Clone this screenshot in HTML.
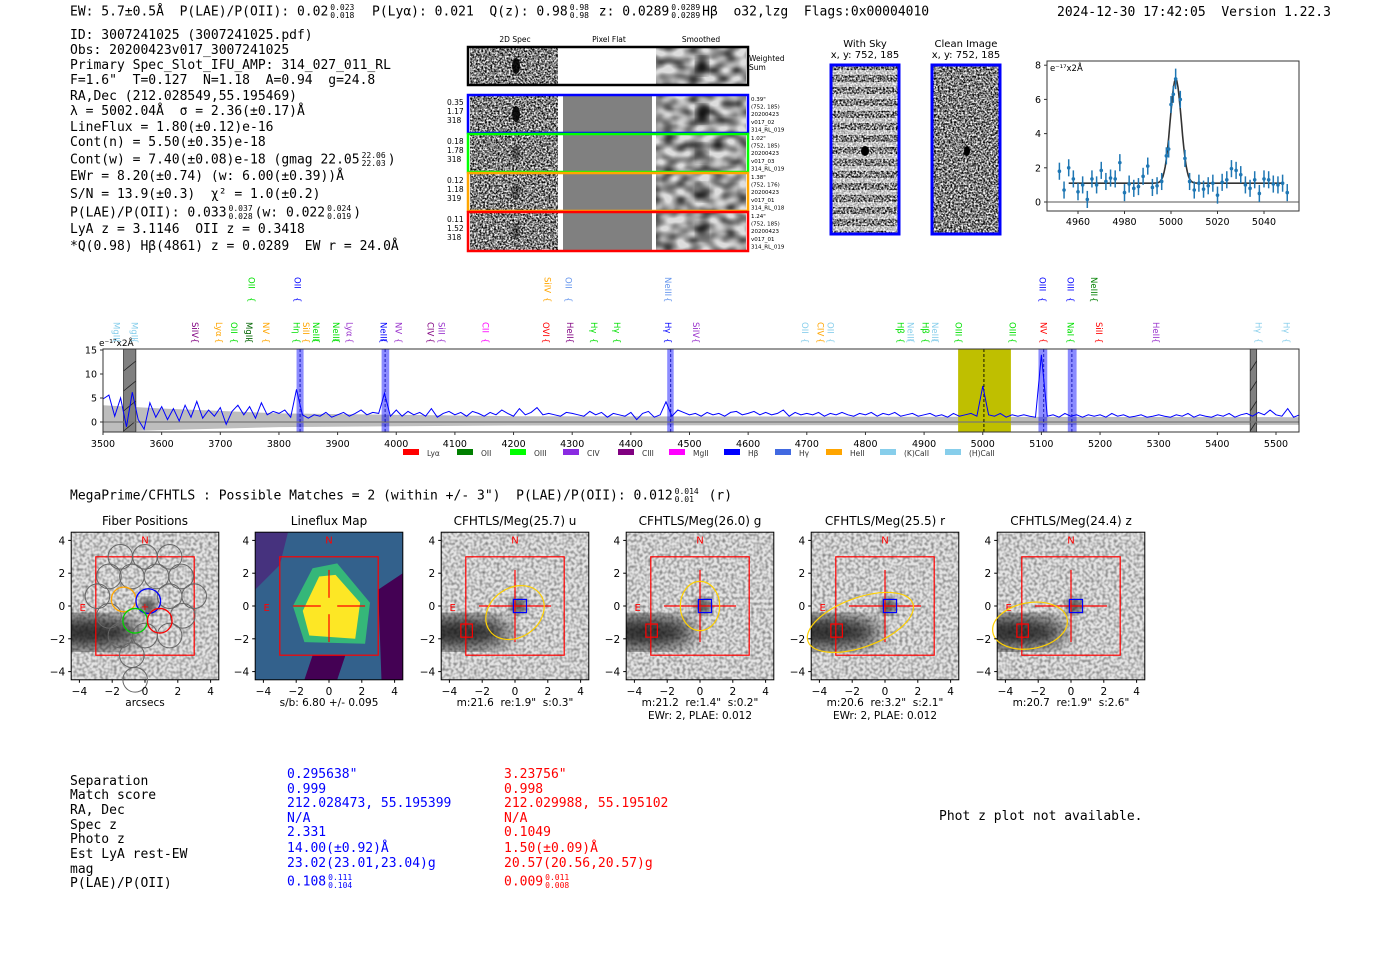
<!DOCTYPE html>
<html><head><meta charset="utf-8">
<style>
body{margin:0;background:#fff;width:1400px;height:953px;position:relative;overflow:hidden;font-family:"DejaVu Sans Mono","Liberation Mono",monospace;}
.t{position:absolute;white-space:pre;font-size:13px;color:#000;line-height:1;}
.s{font-family:"DejaVu Sans","Liberation Sans",sans-serif;}
.st{display:inline-block;vertical-align:middle;font-size:8px;line-height:8px;text-align:left;margin:0 2px;white-space:pre;}
svg{position:absolute;left:0;top:0;}
</style></head><body>
<svg width="0" height="0" style="position:absolute">
<defs>
<filter id="noise" x="0" y="0" width="100%" height="100%"><feTurbulence type="fractalNoise" baseFrequency="0.55" numOctaves="2" seed="3"/><feColorMatrix type="matrix" values="0 0 0 0 0  0 0 0 0 0  0 0 0 0 0  0 0 0 -2.2 1.6"/></filter>
<filter id="noise2" x="0" y="0" width="100%" height="100%"><feTurbulence type="fractalNoise" baseFrequency="0.35" numOctaves="1" seed="7"/><feColorMatrix type="matrix" values="0 0 0 0 0  0 0 0 0 0  0 0 0 0 0  0 0 0 -1.6 1.0"/></filter>
<filter id="smooth" x="0" y="0" width="100%" height="100%"><feTurbulence type="fractalNoise" baseFrequency="0.08 0.12" numOctaves="1" seed="5"/><feColorMatrix type="matrix" values="0 0 0 0 0  0 0 0 0 0  0 0 0 0 0  0 0 0 -1.6 1.1"/></filter>
<filter id="blur3"><feGaussianBlur stdDeviation="4"/></filter>
<filter id="blur8"><feGaussianBlur stdDeviation="9"/></filter>
</defs></svg>

<!-- header -->
<div class="t" style="left:70px;top:4px;">EW: 5.7±0.5Å  P(LAE)/P(OII): 0.02<span class="st">0.023<br>0.018</span>  P(Lyα): 0.021  Q(z): 0.98<span class="st">0.98<br>0.98</span> z: 0.0289<span class="st">0.0289<br>0.0289</span>Hβ  o32,lzg  Flags:0x00004010</div>
<div class="t" style="left:1057px;top:6px;">2024-12-30 17:42:05  Version 1.22.3</div>

<div>
<div class="t" style="left:70px;top:29px;">ID: 3007241025 (3007241025.pdf)</div>
<div class="t" style="left:70px;top:44px;">Obs: 20200423v017_3007241025</div>
<div class="t" style="left:70px;top:59px;">Primary Spec_Slot_IFU_AMP: 314_027_011_RL</div>
<div class="t" style="left:70px;top:74px;">F=1.6"  T=0.127  N=1.18  A=0.94  g=24.8</div>
<div class="t" style="left:70px;top:90px;">RA,Dec (212.028549,55.195469)</div>
<div class="t" style="left:70px;top:105px;">λ = 5002.04Å  σ = 2.36(±0.17)Å</div>
<div class="t" style="left:70px;top:121px;">LineFlux = 1.80(±0.12)e-16</div>
<div class="t" style="left:70px;top:136px;">Cont(n) = 5.50(±0.35)e-18</div>
<div class="t" style="left:70px;top:152px;">Cont(w) = 7.40(±0.08)e-18 (gmag 22.05<span class="st">22.06<br>22.03</span>)</div>
<div class="t" style="left:70px;top:170px;">EWr = 8.20(±0.74) (w: 6.00(±0.39))Å</div>
<div class="t" style="left:70px;top:188px;">S/N = 13.9(±0.3)  χ² = 1.0(±0.2)</div>
<div class="t" style="left:70px;top:205px;">P(LAE)/P(OII): 0.033<span class="st">0.037<br>0.028</span>(w: 0.022<span class="st">0.024<br>0.019</span>)</div>
<div class="t" style="left:70px;top:223px;">LyA z = 3.1146  OII z = 0.3418</div>
<div class="t" style="left:70px;top:240px;">*Q(0.98) Hβ(4861) z = 0.0289  EW r = 24.0Å</div>
</div>

<!-- 2D spec cutouts -->
<svg width="1400" height="953">
<g font-family="DejaVu Sans" font-size="7.5" fill="#000">
<text x="515" y="42" text-anchor="middle">2D Spec</text>
<text x="609" y="42" text-anchor="middle">Pixel Flat</text>
<text x="701" y="42" text-anchor="middle">Smoothed</text>
<text x="749" y="61">Weighted</text><text x="749" y="70">Sum</text>
</g>
<g id="cut"></g>
<g font-family="DejaVu Sans" font-size="10" fill="#000" text-anchor="middle">
<text x="865" y="47">With Sky</text><text x="865" y="58">x, y: 752, 185</text>
<text x="966" y="47">Clean Image</text><text x="966" y="58">x, y: 752, 185</text>
</g>
<rect x="831" y="65" width="68" height="169" fill="#fff"/>
<rect x="831" y="65" width="68" height="169" filter="url(#noise)"/>
<g fill="#fff" opacity="0.55" id="skybands"></g>
<ellipse cx="865" cy="151" rx="4" ry="5" fill="#000"/>
<rect x="831" y="65" width="68" height="169" fill="none" stroke="#00f" stroke-width="3"/>
<rect x="932" y="65" width="68" height="169" fill="#fff"/>
<rect x="932" y="65" width="68" height="169" filter="url(#noise)"/>
<ellipse cx="967" cy="151" rx="3" ry="5" fill="#000"/>
<rect x="932" y="65" width="68" height="169" fill="none" stroke="#00f" stroke-width="3"/>
</svg>

<!-- zoomed line fit -->
<svg width="1400" height="953" id="fitsvg"></svg>

<!-- full spectrum -->
<svg width="1400" height="953" id="specsvg"></svg>

<div class="t" style="left:70px;top:488px;">MegaPrime/CFHTLS : Possible Matches = 2 (within +/- 3")  P(LAE)/P(OII): 0.012<span class="st">0.014<br>0.01</span> (r)</div>

<svg width="1400" height="953" id="imgsvg"></svg>

<!-- match table -->
<div>
<div class="t" style="left:70px;top:775px;">Separation</div>
<div class="t" style="left:70px;top:789px;">Match score</div>
<div class="t" style="left:70px;top:804px;">RA, Dec</div>
<div class="t" style="left:70px;top:819px;">Spec z</div>
<div class="t" style="left:70px;top:833px;">Photo z</div>
<div class="t" style="left:70px;top:848px;">Est LyA rest-EW</div>
<div class="t" style="left:70px;top:863px;">mag</div>
<div class="t" style="left:70px;top:877px;">P(LAE)/P(OII)</div>
</div>
<div style="color:#00f">
<div class="t" style="left:287px;top:768px;color:#00f">0.295638"</div>
<div class="t" style="left:287px;top:783px;color:#00f">0.999</div>
<div class="t" style="left:287px;top:797px;color:#00f">212.028473, 55.195399</div>
<div class="t" style="left:287px;top:812px;color:#00f">N/A</div>
<div class="t" style="left:287px;top:826px;color:#00f">2.331</div>
<div class="t" style="left:287px;top:842px;color:#00f">14.00(±0.92)Å</div>
<div class="t" style="left:287px;top:857px;color:#00f">23.02(23.01,23.04)g</div>
<div class="t" style="left:287px;top:874px;color:#00f">0.108<span class="st">0.111<br>0.104</span></div>
</div>
<div>
<div class="t" style="left:504px;top:768px;color:#f00">3.23756"</div>
<div class="t" style="left:504px;top:783px;color:#f00">0.998</div>
<div class="t" style="left:504px;top:797px;color:#f00">212.029988, 55.195102</div>
<div class="t" style="left:504px;top:812px;color:#f00">N/A</div>
<div class="t" style="left:504px;top:826px;color:#f00">0.1049</div>
<div class="t" style="left:504px;top:842px;color:#f00">1.50(±0.09)Å</div>
<div class="t" style="left:504px;top:857px;color:#f00">20.57(20.56,20.57)g</div>
<div class="t" style="left:504px;top:874px;color:#f00">0.009<span class="st">0.011<br>0.008</span></div>
</div>
<div class="t" style="left:939px;top:810px;">Phot z plot not available.</div>

<script>
// ---------- full spectrum data ----------
const specStart = 3500, specStep = 10;
const specFlux = [
4.8,5.6,1.2,5.0,-1.0,6.2,0.5,-1.5,4.0,1.0,
3.2,0.5,2.8,0.2,3.5,1.0,4.3,0.8,2.5,1.2,
3.0,-0.5,2.2,3.5,1.5,3.2,0.8,4.0,1.5,2.2,
1.8,2.5,1.0,6.8,1.5,0.8,1.5,1.2,2.0,1.0,
1.5,2.0,1.2,1.8,2.5,1.5,2.0,1.8,6.0,1.2,
2.5,1.2,2.2,1.5,2.0,1.2,2.8,1.0,1.8,2.2,
1.5,2.0,1.2,2.2,1.8,1.2,2.0,1.5,2.5,1.8,
1.2,2.8,1.5,2.0,3.0,1.5,1.8,1.5,1.2,2.0,
1.8,1.5,1.2,2.2,1.5,2.0,1.0,1.8,1.5,1.2,
2.0,0.5,1.8,2.2,1.0,1.5,4.2,1.2,2.5,2.0,
1.5,1.8,1.2,2.0,1.5,1.8,1.2,2.0,2.2,1.5,
1.8,2.2,1.5,2.0,1.5,1.8,2.5,1.2,2.0,1.5,
1.8,1.5,2.0,1.2,1.8,1.5,2.0,1.5,1.2,1.8,
1.5,2.0,1.2,1.8,1.5,2.0,1.2,1.5,1.8,1.2,
1.5,1.8,1.2,1.5,1.0,1.8,1.2,1.5,1.8,1.2,
7.5,1.5,1.2,1.8,1.0,1.5,1.2,1.5,1.2,1.0,
14.0,1.2,1.5,1.0,1.8,1.2,1.5,1.0,1.5,1.2,
1.5,1.0,1.8,1.2,1.5,1.0,1.2,1.5,1.0,1.2,
1.5,1.2,1.0,1.5,1.2,1.8,1.0,1.5,1.2,1.0,
1.5,1.2,1.8,1.0,1.5,1.8,1.2,2.0,1.5,2.5,
1.5,1.2,2.8,1.0,1.5];
const errWl = [3500,3600,3800,4200,5540];
const errVal = [3.5,2.8,1.8,1.2,1.0];
const xTicks = [3500,3600,3700,3800,3900,4000,4100,4200,4300,4400,4500,4600,4700,4800,4900,5000,5100,5200,5300,5400,5500];
const yTicks = [0,5,10,15];
const blueBands = [[3830,3842],[3975,3988],[4462,4473],[5095,5110],[5145,5160]];
const blueCenters = [3836,3981,4468,5104,5152];
const yellowBand = [4958,5048];
const grayBands = [[3535,3556],[5456,5467]];
const lowLabels = [["MgII",3523,"#87ceeb"],["MgII",3554,"#87ceeb"],["SiIV",3657,"#800080"],["Lyα",3698,"#ffa500"],["OII",3723,"#00e000"],["MgII",3749,"#006400"],["NV",3778,"#ffa500"],["Hη",3830,"#00e000"],["SiII",3846,"#ffa500"],["NeIII",3863,"#00e000"],["NeIII",3897,"#00e000"],["Lyα",3920,"#9932cc"],["NeIII",3978,"#0000ff"],["NV",4004,"#9932cc"],["CIV",4058,"#800080"],["SiII",4077,"#9932cc"],["CII",4152,"#ff00ff"],["OVI",4255,"#ff0000"],["HeII",4296,"#800080"],["Hγ",4337,"#00e000"],["Hγ",4376,"#00e000"],["Hγ",4463,"#0000ff"],["SiIV",4511,"#9932cc"],["OII",4697,"#87ceeb"],["CIV",4723,"#ffa500"],["OII",4740,"#87ceeb"],["Hβ",4860,"#00e000"],["NeIII",4877,"#87ceeb"],["Hβ",4902,"#00e000"],["NeIII",4919,"#87ceeb"],["OIII",4959,"#00e000"],["OIII",5051,"#00e000"],["NV",5104,"#ff0000"],["NaI",5150,"#00e000"],["SiII",5198,"#ff0000"],["HeII",5295,"#9932cc"],["Hγ",5470,"#87ceeb"],["Hγ",5518,"#87ceeb"]];
const highLabels = [["OII",3753,"#00e000"],["OII",3832,"#0000ff"],["SiIV",4258,"#ffa500"],["OII",4294,"#6495ed"],["NeIII",4463,"#6495ed"],["OIII",5102,"#0000ff"],["OIII",5150,"#0000ff"],["NeIII",5190,"#008000"]];
const legendNames = ["Lyα","OII","OIII","CIV","CIII","MgII","Hβ","Hγ","HeII","(K)CaII","(H)CaII"];
const legendColors = ["#ff0000","#007f00","#00ff00","#8a2be2","#800080","#ff00ff","#0000ff","#4169e1","#ffa500","#87ceeb","#87ceeb"];

// ---------- line fit data ----------
const fitWl = [4952,4954,4956,4958,4960,4962,4964,4966,4968,4970,4972,4974,4976,4978,4980,4982,4984,4986,4988,4990,4992,4994,4996,4998,4999,5000,5001,5002,5004,5006,5008,5010,5012,5014,5016,5018,5020,5022,5024,5026,5028,5030,5032,5034,5036,5038,5040,5042,5044,5046,5048,5050];
const fitFlux = [1.8,0.7,2.0,1.35,0.6,1.0,0.15,1.35,1.0,1.85,1.2,1.4,1.35,2.3,0.55,1.05,0.8,0.9,1.5,2.1,0.85,0.95,1.2,2.7,3.1,5.7,6.3,7.2,6.0,2.55,1.2,0.7,1.1,0.75,0.95,1.1,0.4,1.15,1.3,1.95,1.85,1.6,1.0,0.8,1.3,0.5,1.35,1.3,1.05,1.0,1.1,0.55];
const fitErr = [0.5,0.5,0.5,0.5,0.5,0.5,0.5,0.5,0.5,0.5,0.5,0.5,0.5,0.5,0.5,0.5,0.5,0.5,0.5,0.5,0.5,0.5,0.5,0.5,0.5,0.5,0.5,0.6,0.5,0.5,0.5,0.5,0.5,0.5,0.5,0.5,0.5,0.5,0.5,0.5,0.5,0.5,0.5,0.5,0.5,0.5,0.5,0.5,0.5,0.5,0.5,0.5];
const fitTicksX = [4960,4980,5000,5020,5040];
const fitTicksY = [0,2,4,6,8];
const fitModel = [5002.04, 2.36, 6.1, 1.1]; // center, sigma, amplitude, continuum

const NS="http://www.w3.org/2000/svg";
function mk(parent,tag,attrs,txt){const e=document.createElementNS(NS,tag);for(const k in attrs)e.setAttribute(k,attrs[k]);if(txt!==undefined)e.textContent=txt;parent.appendChild(e);return e;}

// ---------- cutouts ----------
(function(){
 const g=document.getElementById('cut');
 const rows=[[47,38,"#000",null],[95,38,"#0000ff",["0.35","1.17","318"],["0.39\"","(752, 185)","20200423","v017_02","314_RL_019"]],[134,38,"#00ff00",["0.18","1.78","318"],["1.02\"","(752, 185)","20200423","v017_03","314_RL_019"]],[173,38,"#ffa500",["0.12","1.18","319"],["1.38\"","(752, 176)","20200423","v017_01","314_RL_018"]],[212,39,"#ff0000",["0.11","1.52","318"],["1.24\"","(752, 185)","20200423","v017_01","314_RL_019"]]];
 rows.forEach((r,i)=>{
  const y=r[0],h=r[1];
  mk(g,'rect',{x:470,y:y,width:88,height:h,fill:'#fff'});
  mk(g,'rect',{x:470,y:y,width:88,height:h,filter:'url(#noise)'});
  mk(g,'ellipse',{cx:516,cy:y+h/2,rx:4,ry:8,fill:'#000',opacity:i==0||i==1?0.9:0.4});
  mk(g,'rect',{x:563,y:y,width:89,height:h,fill:i==0?'#fff':'#808080'});
  mk(g,'rect',{x:656,y:y,width:90,height:h,fill:'#ddd'});
  mk(g,'rect',{x:656,y:y,width:90,height:h,filter:'url(#smooth)'});
  mk(g,'ellipse',{cx:702,cy:y+h/2,rx:6,ry:9,fill:'#000',filter:'url(#blur3)',opacity:i<2?1:0.6});
  mk(g,'rect',{x:468,y:y,width:280,height:h,fill:'none',stroke:r[2],'stroke-width':2.5});
  if(r[3]) r[3].forEach((t,j)=>mk(g,'text',{x:447,y:y+10+j*9,'font-family':'DejaVu Sans','font-size':7.5},t));
  if(r[4]) r[4].forEach((t,j)=>mk(g,'text',{x:751,y:y+6+j*7.6,'font-family':'DejaVu Sans','font-size':5.5},t));
 });
 const sb=document.getElementById('skybands');
 for(let y=70;y<232;y+=12){mk(sb,'rect',{x:831,y:y,width:68,height:5});}
})();

// ---------- fit chart ----------
(function(){
 const s=document.getElementById('fitsvg');
 const L=1047,R=1299,T=61,B=211;
 const fx=w=>1078+(w-4960)*2.325, fy=v=>202-v*17.1;
 mk(s,'rect',{x:L,y:T,width:R-L,height:B-T,fill:'#fff',stroke:'#333','stroke-width':1});
 mk(s,'line',{x1:L,x2:R,y1:fy(0),y2:fy(0),stroke:'#555','stroke-width':1});
 fitTicksX.forEach(t=>{mk(s,'line',{x1:fx(t),x2:fx(t),y1:B,y2:B+3,stroke:'#333'});const e=mk(s,'text',{x:fx(t),y:B+14,'font-family':'DejaVu Sans','font-size':9.5,'text-anchor':'middle'},t);});
 fitTicksY.forEach(t=>{mk(s,'line',{x1:L-3,x2:L,y1:fy(t),y2:fy(t),stroke:'#333'});mk(s,'text',{x:L-6,y:fy(t)+3.5,'font-family':'DejaVu Sans','font-size':9.5,'text-anchor':'end'},t);});
 mk(s,'text',{x:L+3,y:T+10,'font-family':'DejaVu Sans','font-size':8.5},'e⁻¹⁷x2Å');
 let d='';
 for(let w=4956;w<=5048;w+=0.5){const v=fitModel[3]+fitModel[2]*Math.exp(-0.5*Math.pow((w-fitModel[0])/fitModel[1],2));d+=(d?'L':'M')+fx(w).toFixed(1)+','+fy(v).toFixed(1);}
 const m=mk(s,'path',{d:d,fill:'none',stroke:'#333','stroke-width':1.6});
 
 fitWl.forEach((w,i)=>{
  const g=mk(s,'g',{});
  
  
  mk(g,'line',{x1:fx(w),x2:fx(w),y1:fy(fitFlux[i]-fitErr[i]),y2:fy(fitFlux[i]+fitErr[i]),stroke:'#1f77b4','stroke-width':1.5});
  mk(g,'circle',{cx:fx(w),cy:fy(fitFlux[i]),r:1.8,fill:'#1f77b4'});
 });
})();

// ---------- full spectrum ----------
(function(){
 const s=document.getElementById('specsvg');
 const L=103,R=1299,T=349,B=432;
 const sx=w=>103+(w-3500)*0.5865, sy=v=>422-v*4.8;
 mk(s,'rect',{x:L,y:T,width:R-L,height:B-T,fill:'#fff'});
 let up='',dn='';
 const n=errWl.length;
 for(let i=0;i<n;i++){up+=(i?'L':'M')+sx(errWl[i])+','+sy(errVal[i]);}
 for(let i=n-1;i>=0;i--){dn+='L'+sx(errWl[i])+','+sy(-errVal[i]*0.6);}
 const band=mk(s,'path',{d:up+dn+'Z',fill:'#bdbdbd'});
 
 const yb=mk(s,'rect',{x:sx(yellowBand[0]),y:T,width:sx(yellowBand[1])-sx(yellowBand[0]),height:B-T,fill:'#bfbf00'});
 
 blueBands.forEach(b=>{const r=mk(s,'rect',{x:sx(b[0]),y:T,width:sx(b[1])-sx(b[0]),height:B-T,fill:'#0000ff',opacity:0.45});});
 grayBands.forEach(b=>{const r=mk(s,'rect',{x:sx(b[0]),y:T,width:sx(b[1])-sx(b[0]),height:B-T,fill:'#808080',stroke:'#333','stroke-width':0.8});
  for(let k=0;k<4;k++){mk(s,'line',{x1:sx(b[0]),x2:sx(b[1]),y1:T+22+k*20,y2:T+12+k*20,stroke:'#222','stroke-width':0.8});}});
 mk(s,'line',{x1:L,x2:R,y1:sy(0),y2:sy(0),stroke:'#777','stroke-width':1.2});
 blueCenters.forEach(c=>mk(s,'line',{x1:sx(c),x2:sx(c),y1:T,y2:B,stroke:'#0000aa','stroke-dasharray':'3,2','stroke-width':0.8}));
 mk(s,'line',{x1:sx(5002),x2:sx(5002),y1:T,y2:B,stroke:'#000','stroke-dasharray':'3,2','stroke-width':0.9});
 let d='';
 specFlux.forEach((v,i)=>{const w=specStart+i*specStep;d+=(i?'L':'M')+sx(w).toFixed(1)+','+sy(Math.max(v,-2)).toFixed(1);});
 const ln=mk(s,'path',{d:d,fill:'none',stroke:'#0000ff','stroke-width':1});
 
 mk(s,'rect',{x:L,y:T,width:R-L,height:B-T,fill:'none',stroke:'#333','stroke-width':1});
 xTicks.forEach(t=>{mk(s,'line',{x1:sx(t),x2:sx(t),y1:B,y2:B+3,stroke:'#333'});mk(s,'text',{x:sx(t),y:B+15,'font-family':'DejaVu Sans','font-size':9.5,'text-anchor':'middle'},t);});
 yTicks.forEach(t=>{mk(s,'line',{x1:L-3,x2:L,y1:sy(t),y2:sy(t),stroke:'#333'});mk(s,'text',{x:L-6,y:sy(t)+3.5,'font-family':'DejaVu Sans','font-size':9.5,'text-anchor':'end'},t);});
 mk(s,'text',{x:99,y:346,'font-family':'DejaVu Sans','font-size':9},'e⁻¹⁷x2Å');
 lowLabels.forEach(a=>{const x=sx(a[1]);const e=mk(s,'text',{x:0,y:0,transform:`translate(${x-3},${322}) rotate(90)`,'font-family':'DejaVu Sans','font-size':8.5,fill:a[2]},a[0]);mk(s,'text',{x:0,y:0,transform:`translate(${x-3},${338}) rotate(90)`,'font-family':'DejaVu Sans','font-size':8.5,fill:a[2]},'{');});
 highLabels.forEach(a=>{const x=sx(a[1]);const e=mk(s,'text',{x:0,y:0,transform:`translate(${x-3},${277}) rotate(90)`,'font-family':'DejaVu Sans','font-size':8.5,fill:a[2]},a[0]);mk(s,'text',{x:0,y:0,transform:`translate(${x-3},${297}) rotate(90)`,'font-family':'DejaVu Sans','font-size':8.5,fill:a[2]},'{');});
 const lx=[403,457,510,563,618,669,724,775,826,880,945];
 legendNames.forEach((nm,i)=>{const g=mk(s,'g',{});
  mk(g,'rect',{x:lx[i],y:449,width:16,height:6,fill:legendColors[i]});
  mk(g,'text',{x:lx[i]+24,y:456,'font-family':'DejaVu Sans','font-size':7.5,fill:'#333'},nm);});
})();

// ---------- imaging panels ----------
(function(){
 const s=document.getElementById('imgsvg');
 const px=16.4;
 const panels=[
  {c:145,title:'Fiber Positions',sub:['arcsecs'],type:'fiber'},
  {c:329,title:'Lineflux Map',sub:['s/b: 6.80 +/- 0.095'],type:'flux'},
  {c:515,title:'CFHTLS/Meg(25.7) u',sub:['m:21.6  re:1.9"  s:0.3"'],type:'img',ell:[0,-0.4,1.9,1.5,35]},
  {c:700,title:'CFHTLS/Meg(26.0) g',sub:['m:21.2  re:1.4"  s:0.2"','EWr: 2, PLAE: 0.012'],type:'img',ell:[0,0,1.2,1.5,0]},
  {c:885,title:'CFHTLS/Meg(25.5) r',sub:['m:20.6  re:3.2"  s:2.1"','EWr: 2, PLAE: 0.012'],type:'img',ell:[-1.5,-1,3.4,1.5,20]},
  {c:1071,title:'CFHTLS/Meg(24.4) z',sub:['m:20.7  re:1.9"  s:2.6"'],type:'img',ell:[-2.5,-1.2,2.3,1.4,10]}
 ];
 const cy=606;
 panels.forEach((p,pi)=>{
  const g=mk(s,'g',{});
  
  
  const X=v=>p.c+v*px, Y=v=>cy-v*px;
  const x0=X(-4.5),y0=Y(4.5),w=9*px;
  const cp='cp'+pi;
  const defs=mk(g,'defs',{});const clip=mk(defs,'clipPath',{id:cp});mk(clip,'rect',{x:x0,y:y0,width:w,height:w});
  const ig=mk(g,'g',{'clip-path':`url(#${cp})`});
  if(p.type==='flux'){
   mk(ig,'rect',{x:x0,y:y0,width:w,height:w,fill:'#2a788e'});
   mk(ig,'rect',{x:x0,y:y0,width:w,height:w,fill:'#3b528b',opacity:0.6});
   mk(ig,'path',{d:`M${X(-4.5)},${Y(4.5)}L${X(-2.5)},${Y(4.5)}L${X(-3)},${Y(2.5)}L${X(-4.5)},${Y(1)}Z`,fill:'#46327e'});
   mk(ig,'path',{d:`M${X(4.5)},${Y(2)}L${X(3)},${Y(1)}L${X(3.2)},${Y(-4.5)}L${X(4.5)},${Y(-4.5)}Z`,fill:'#440154'});
   mk(ig,'path',{d:`M${X(-1)},${Y(-3)}L${X(1)},${Y(-3)}L${X(0.5)},${Y(-4.5)}L${X(-1.5)},${Y(-4.5)}Z`,fill:'#440154'});
   mk(ig,'path',{d:`M${X(-2.2)},${Y(0)}L${X(-1)},${Y(2.3)}L${X(0.5)},${Y(2.6)}L${X(2.5)},${Y(0.2)}L${X(2.2)},${Y(-2.3)}L${X(-1.5)},${Y(-2.2)}Z`,fill:'#35b779'});
   mk(ig,'path',{d:`M${X(-1.6)},${Y(-0.3)}L${X(-0.6)},${Y(1.8)}L${X(0.4)},${Y(1.9)}L${X(1.9)},${Y(0.2)}L${X(1.6)},${Y(-2)}L${X(-1.2)},${Y(-1.8)}Z`,fill:'#fde725'});
  } else {
   mk(ig,'rect',{x:x0,y:y0,width:w,height:w,fill:'#e4e4e4'});
   mk(ig,'rect',{x:x0,y:y0,width:w,height:w,filter:'url(#noise2)',opacity:0.6});
   mk(ig,'ellipse',{cx:X(-3.5),cy:Y(-1.6),rx:3.2*px,ry:1.0*px,fill:'#111',filter:'url(#blur8)',opacity:0.85});
   mk(ig,'ellipse',{cx:X(0.2),cy:Y(0),rx:0.5*px,ry:0.5*px,fill:'#333',filter:'url(#blur3)',opacity:0.8});
  }
  mk(g,'rect',{x:x0,y:y0,width:w,height:w,fill:'none',stroke:'#000','stroke-width':1});
  mk(g,'rect',{x:X(-3),y:Y(3),width:6*px,height:6*px,fill:'none',stroke:'#ff0000','stroke-width':1.2});
  mk(g,'text',{x:X(0),y:Y(3.8),'font-family':'DejaVu Sans','font-size':10,fill:'#ff0000','text-anchor':'middle'},'N');
  mk(g,'text',{x:X(-3.8),y:Y(-0.3),'font-family':'DejaVu Sans','font-size':10,fill:'#ff0000','text-anchor':'middle'},'E');
  if(p.type==='fiber'){
   const pos=[[-1.5,3],[0,3],[1.5,3],[-2.2,1.8],[-0.8,1.8],[0.7,1.8],[2.2,1.8],[-2.9,0.6],[1.5,0.6],[3,0.6],[-2.2,-0.6],[2.3,-0.6],[-1.5,-1.8],[0,-1.8],[1.5,-1.8],[-0.8,-3],[-0.6,-4.5]];
   pos.forEach(q=>mk(g,'circle',{cx:X(q[0]),cy:Y(q[1]),r:0.75*px,fill:'none',stroke:'#666','stroke-width':1}));
   [[-1.3,0.4,'#ffa500'],[0.2,0.3,'#0000ff'],[-0.6,-0.9,'#00d000'],[0.9,-0.9,'#ff0000']].forEach(q=>mk(g,'circle',{cx:X(q[0]),cy:Y(q[1]),r:0.75*px,fill:'none',stroke:q[2],'stroke-width':1.3}));
   mk(g,'text',{x:X(0),y:Y(0)+4,'font-family':'DejaVu Sans','font-size':10,fill:'#ff0000','text-anchor':'middle'},'+');
  } else {
   const gap=p.type==='flux'?0.5:0;
   [[-2.2,-gap],[gap,2.2]].forEach(a=>mk(g,'line',{x1:X(a[0]),x2:X(a[1]),y1:Y(0),y2:Y(0),stroke:'#ff0000','stroke-width':1.2}));
   [[-2.2,-gap],[gap,2.2]].forEach(a=>mk(g,'line',{x1:X(0),x2:X(0),y1:Y(a[0]),y2:Y(a[1]),stroke:'#ff0000','stroke-width':1.2}));
  }
  if(p.type==='img'){
   const e=p.ell;
   mk(g,'ellipse',{cx:X(e[0]),cy:Y(e[1]),rx:e[2]*px,ry:e[3]*px,transform:`rotate(${-e[4]} ${X(e[0])} ${Y(e[1])})`,fill:'none',stroke:'#ffd000','stroke-width':1.2});
   mk(g,'rect',{x:X(-0.1),y:Y(0.4),width:0.8*px,height:0.8*px,fill:'none',stroke:'#0000ff','stroke-width':1.2});
   mk(g,'rect',{x:X(-3.3),y:Y(-1.1),width:0.7*px,height:0.8*px,fill:'none',stroke:'#ff0000','stroke-width':1.2});
  }
  [-4,-2,0,2,4].forEach(t=>{
   mk(g,'line',{x1:X(t),x2:X(t),y1:Y(-4.5),y2:Y(-4.5)+3,stroke:'#000'});
   mk(g,'text',{x:X(t),y:Y(-4.5)+15,'font-family':'DejaVu Sans','font-size':10.5,'text-anchor':'middle'},String(t).replace('-','−'));
   mk(g,'line',{x1:x0-3,x2:x0,y1:Y(t),y2:Y(t),stroke:'#000'});
   mk(g,'text',{x:x0-6,y:Y(t)+4,'font-family':'DejaVu Sans','font-size':10.5,'text-anchor':'end'},String(t).replace('-','−'));
  });
  const tt=mk(g,'text',{x:p.c,y:525,'font-family':'DejaVu Sans','font-size':12,'text-anchor':'middle'},p.title);
  
  p.sub.forEach((t,j)=>{const e=mk(g,'text',{x:p.c,y:706+j*13,'font-family':'DejaVu Sans','font-size':10.5,'text-anchor':'middle'},t);e.setAttribute('xml:space','preserve');e.style.whiteSpace='pre';});
 });
})();
</script>
</body></html>
